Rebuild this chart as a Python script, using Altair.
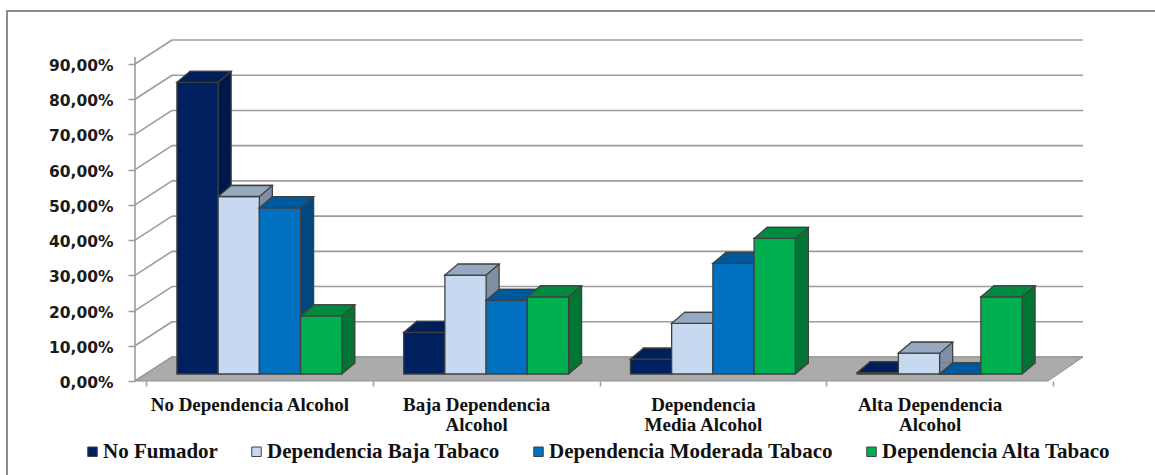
import altair as alt
import pandas as pd

# Alcohol dependence groups (x axis) and tobacco dependence series
categories = [
    "No Dependencia Alcohol",
    "Baja Dependencia\nAlcohol",
    "Dependencia\nMedia Alcohol",
    "Alta Dependencia\nAlcohol",
]
series = [
    "No Fumador",
    "Dependencia Baja Tabaco",
    "Dependencia Moderada Tabaco",
    "Dependencia Alta Tabaco",
]
no_fumador = [82.8, 11.8, 4.2, 0.4]
dep_baja = [50.4, 28.1, 14.4, 5.9]
dep_moderada = [47.2, 20.9, 31.4, 0.0]
dep_alta = [16.5, 21.9, 38.5, 21.9]
y_ticks = [0, 10, 20, 30, 40, 50, 60, 70, 80, 90]

front_colors = ["#002060", "#C6D9F1", "#0070C0", "#00B050"]
top_colors = ["#001E57", "#97A8C1", "#00599D", "#008A3F"]
side_colors = ["#00174A", "#7F8EA3", "#00487F", "#007534"]

values = [no_fumador, dep_baja, dep_moderada, dep_alta]
df = pd.DataFrame(
    [
        {"cat": c, "series": s, "v": vals[i]}
        for s, vals in zip(series, values)
        for i, c in enumerate(categories)
    ]
)
ticks_df = pd.DataFrame({"t": y_ticks})
one = pd.DataFrame({"k": [0]})

# geometry of the pseudo-3D look
W, H = 907, 317
DX, DY = 13, 11          # depth of each bar (right / up)
OUTER = 0.75             # outer padding of the series slots inside a group
step = W / len(categories) / (len(series) + 2 * OUTER)
half = step / 2

EDGE = "#404040"
GRID = "#9c9c9c"
SERIF = "Liberation Serif, Times New Roman, Times, serif"

y_scale = alt.Scale(domain=[0, 90], nice=False, zero=True)
x_scale = alt.Scale(domain=categories, paddingInner=0, paddingOuter=0)

x_axis = alt.Axis(
    title=None, orient="bottom", offset=7, domain=False,
    ticks=True, tickBand="extent", tickOffset=-9, tickSize=5,
    tickColor=GRID, tickWidth=1.5, labelAngle=0, labelOffset=-10,
    labelFont=SERIF, labelFontWeight="bold", labelFontSize=19,
    labelLineHeight=20.7, labelColor="#111111", labelPadding=9,
    labelLimit=400, labelOverlap=False,
    labelExpr="split(datum.label, '\\n')",
)
y_axis = alt.Axis(
    title=None, orient="left", offset=11, domain=False, grid=False, values=y_ticks,
    tickOffset=7, tickSize=7, tickColor=GRID, tickWidth=1.5, labelOffset=1.5,
    labelFont="DejaVu Sans", labelFontWeight="bold", labelFontSize=15.5,
    labelColor="#1a1a1a", labelPadding=15,
    labelExpr="replace(format(datum.value, '.2f'), '.', ',') + '%'",
)
legend = alt.Legend(
    title=None, orient="none", legendX=-64, legendY=384, direction="horizontal",
    symbolType="square", symbolSize=90, symbolStrokeColor=EDGE, symbolStrokeWidth=1,
    labelFont=SERIF, labelFontWeight="bold", labelFontSize=21,
    labelColor="#111111", labelOffset=0, columnPadding=28, padding=0, labelLimit=400,
)

# outer frame
border = alt.Chart(one).mark_rect(filled=False, stroke="#8c8c8c", strokeWidth=2).encode(
    x=alt.value(-139), x2=alt.value(1020), y=alt.value(-46), y2=alt.value(430)
)

y_t = alt.Y("t:Q", scale=y_scale, axis=y_axis)

# back wall gridlines and their slanted side-wall continuations
grid_back = alt.Chart(ticks_df).mark_rule(stroke=GRID, strokeWidth=1.6, yOffset=-17).encode(
    x=alt.value(26), x2=alt.value(937), y=y_t
)
grid_side = alt.Chart(ticks_df).mark_rule(
    stroke=GRID, strokeWidth=1.6, yOffset=7, y2Offset=-17
).encode(x=alt.value(-11), x2=alt.value(26), y=y_t, y2=alt.Y2("t:Q"))
axis_line = alt.Chart(ticks_df).mark_rule(stroke=GRID, strokeWidth=1.6, yOffset=7).encode(
    x=alt.value(-11), y=alt.Y("min(t):Q", scale=y_scale, axis=y_axis), y2=alt.Y2("max(t):Q")
)

# grey floor
floor_path = "M-11,7 L902,7 L937,-17 L26,-17 Z"
floor = alt.Chart(ticks_df).transform_filter(alt.datum.t == 0).mark_point(
    shape=floor_path, size=4, filled=True, fill="#ababab", stroke="#8f8f8f",
    strokeWidth=1, opacity=1,
).encode(x=alt.value(0), y=y_t)

top_path = f"M{-half:.2f},0 L{half:.2f},0 L{half + DX:.2f},{-DY} L{-half + DX:.2f},{-DY} Z"
tri_path = (
    f"M{half:.2f},{-DY - 0.8} L{half + DX - 0.7:.2f},{-DY - 0.8} "
    f"L{half + DX - 0.7:.2f},{-DY + 0.6} L{half:.2f},0 Z"
)
diag_path = f"M{half:.2f},0 L{half + DX:.2f},{-DY}"

x_enc = alt.X("cat:N", scale=x_scale, axis=x_axis)
y_enc = alt.Y("v:Q", scale=y_scale, axis=y_axis)
y_base = alt.Y("base:Q", scale=y_scale, axis=y_axis)
fill_enc = alt.Fill("series:N", scale=alt.Scale(domain=series, range=front_colors), legend=legend)

layers = [border, grid_back, grid_side, axis_line, floor]
for i, s in enumerate(series):
    # each series sits in its own slot inside the category band
    slot = (i - (len(series) - 1) / 2) * step
    sub = alt.Chart(df).transform_filter(alt.datum.series == s).transform_calculate(base="0")
    side = sub.mark_bar(
        fill=side_colors[i], stroke=EDGE, strokeWidth=1.3, width=step,
        xOffset=slot + DX, yOffset=-DY, y2Offset=-DY,
    ).encode(x=x_enc, y=y_enc, y2=alt.Y2("base:Q"))
    tri = sub.mark_point(
        shape=tri_path, size=4, filled=True, fill=side_colors[i], strokeWidth=0,
        opacity=1, xOffset=slot,
    ).encode(x=x_enc, y=y_base)
    diag = sub.mark_point(
        shape=diag_path, size=4, filled=False, stroke=EDGE, strokeWidth=1.3,
        opacity=1, xOffset=slot,
    ).encode(x=x_enc, y=y_base)
    front = sub.mark_bar(stroke=EDGE, strokeWidth=1.3, width=step, xOffset=slot).encode(
        x=x_enc, y=y_enc, y2=alt.Y2("base:Q"), fill=fill_enc
    )
    top = sub.mark_point(
        shape=top_path, size=4, filled=True, fill=top_colors[i], stroke=EDGE,
        strokeWidth=1.3, opacity=1, xOffset=slot,
    ).encode(x=x_enc, y=y_enc)
    layers += [side, tri, diag, front, top]

chart = (
    alt.layer(*layers)
    .properties(
        width=W, height=H,
        padding={"left": 146, "top": 57, "right": 102, "bottom": 101},
        autosize=alt.AutoSizeParams(type="none"),
        background="white",
    )
    .configure_view(stroke=None)
)

chart.save("out.html", embed_options={"renderer": "svg", "actions": False})
